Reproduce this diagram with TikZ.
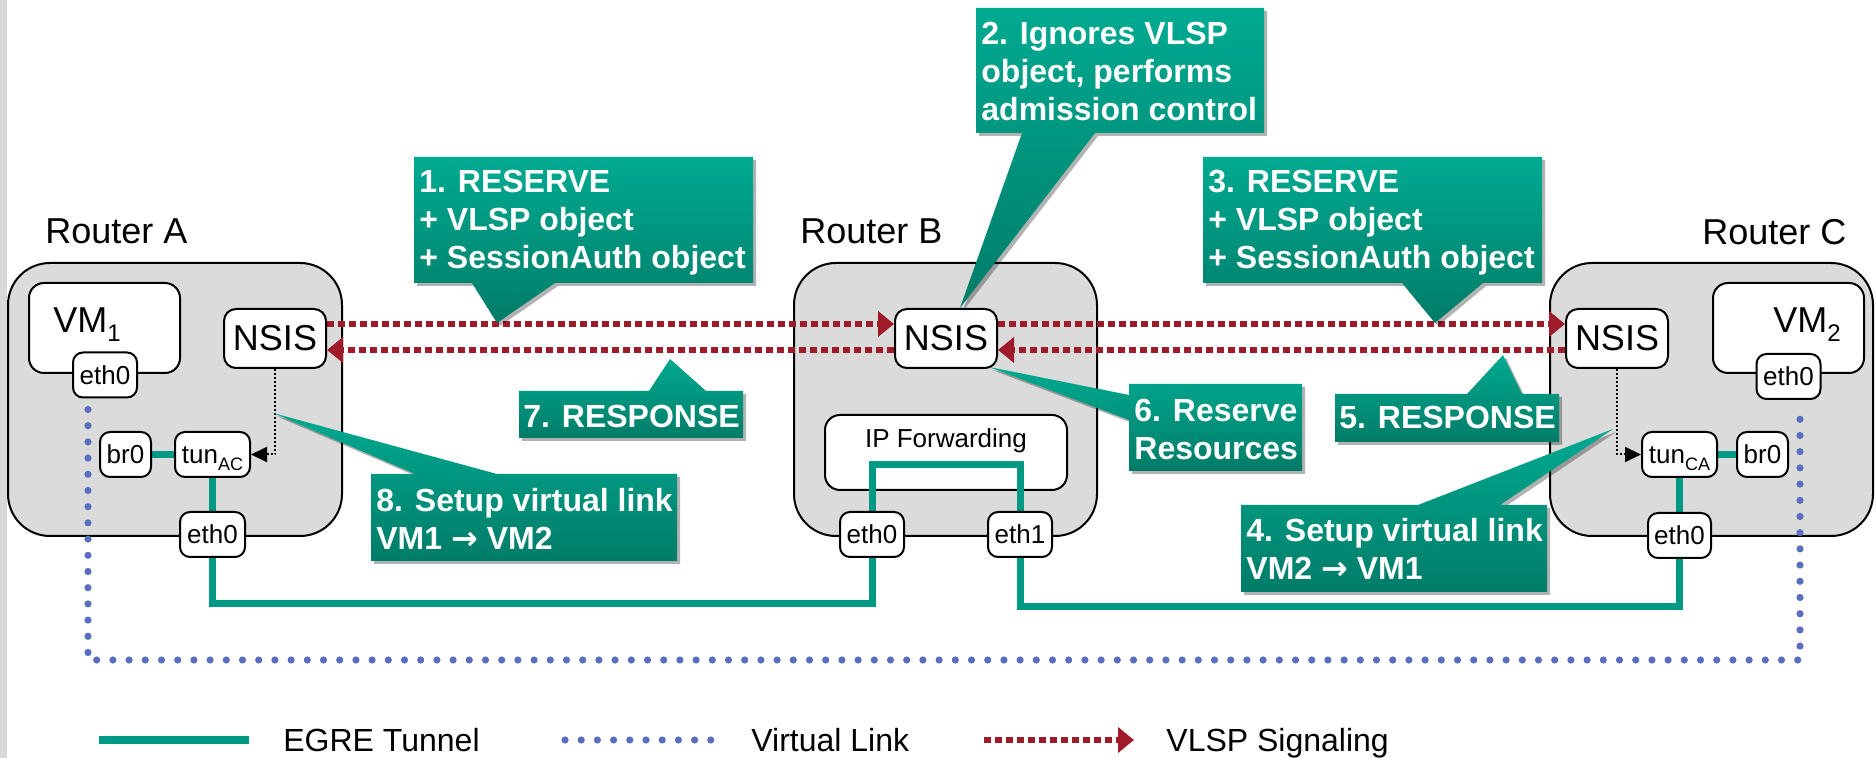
\documentclass[tikz,border=0pt]{standalone}
\usepackage{fontspec}
\setmainfont{Liberation Sans}
\newfontfamily\arrowfont{DejaVu Sans}
\usetikzlibrary{arrows.meta,calc,shadows}
\definecolor{teal0}{RGB}{0,153,133}
\definecolor{calltop}{RGB}{0,170,145}
\definecolor{callbot}{RGB}{0,124,104}
\definecolor{sigred}{RGB}{158,27,42}
\definecolor{vlblue}{RGB}{90,110,190}
\definecolor{routergray}{RGB}{219,219,219}
\definecolor{sidebar}{RGB}{217,217,217}
\pgfdeclarelayer{routers}
\pgfdeclarelayer{links}
\pgfdeclarelayer{callouts}
\pgfsetlayers{routers,links,main,callouts}
\newcommand{\rarr}{{\arrowfont\bfseries →}}
\tikzset{
  router/.style={draw, line width=1pt, fill=routergray, rounded corners=21pt, inner sep=0pt, minimum height=136.5pt},
  vmbox/.style={draw, line width=1pt, fill=white, rounded corners=7.5pt, inner sep=0pt, minimum width=75.5pt, minimum height=45pt},
  port/.style={draw, line width=1pt, fill=white, rounded corners=5pt, inner sep=0pt, minimum height=22.5pt, text height=9.4pt, text depth=0pt, font=\fontsize{13pt}{13pt}\selectfont},
  nsis/.style={draw, line width=1pt, fill=white, rounded corners=6pt, inner sep=0pt, minimum width=51pt, minimum height=29.5pt, font=\fontsize{18pt}{18pt}\selectfont},
  rlabel/.style={anchor=base west, inner sep=0pt, font=\fontsize{18pt}{18pt}\selectfont},
  tunnel/.style={draw=teal0, line width=3.5pt, line join=miter},
  vlink/.style={draw=vlblue, line width=3.6pt, line cap=round, dash pattern=on 0pt off 8.1pt},
  sig/.style={draw=sigred, line width=3pt, dash pattern=on 3.4pt off 2.1pt, -{Triangle[length=8pt,width=12.5pt]}},
  ctrl/.style={draw=black, line width=1pt, dash pattern=on 1pt off 1pt, -{Triangle[length=8pt,width=7.5pt]}},
  callbox/.style={top color=calltop, bottom color=callbot, drop shadow={shadow xshift=1.5pt, shadow yshift=-1.5pt, opacity=0.3, fill=black}},
  calltext/.style={anchor=north west, inner sep=0pt, text=white, align=left, font=\bfseries\fontsize{16pt}{19pt}\selectfont},
  legtext/.style={anchor=base west, inner sep=0pt, font=\fontsize{16pt}{16pt}\selectfont},
}
\begin{document}
\begin{tikzpicture}[x=0.5pt,y=-0.5pt]
\useasboundingbox (0,0) rectangle (1876,758);
\fill[sidebar] (0,0) rectangle (7,758);

% router chassis and the forwarding plane of router B
\begin{pgfonlayer}{routers}
  \node[router, minimum width=167pt] (routerA) at (175,399.5) {};
  \node[router, minimum width=151.5pt] (routerB) at (945.5,399.5) {};
  \node[router, minimum width=161.5pt] (routerC) at (1711.5,399.5) {};
  \node[draw, line width=1pt, fill=white, rounded corners=7.5pt, minimum width=121pt, minimum height=37.5pt] (ipf) at (946,452.5) {};
\end{pgfonlayer}

% router labels
\node[rlabel] (labA) at (45,244) {Router A};
\node[rlabel] (labB) at (800,244) {Router B};
\node[rlabel] (labC) at (1702,245) {Router C};
\node[anchor=base, inner sep=0pt, font=\fontsize{13pt}{13pt}\selectfont] (ipftext) at (946,448) {IP Forwarding};

% virtual machines
\node[vmbox] (vmA) at (104.5,328) {};
\node[vmbox] (vmC) at (1788.5,328) {};
\node[rlabel] (vmAlab) at (53,333) {VM\raisebox{-4.5pt}{\fontsize{12pt}{12pt}\selectfont 1}};
\node[rlabel] (vmClab) at (1773,333) {VM\raisebox{-4.5pt}{\fontsize{12pt}{12pt}\selectfont 2}};

% NSIS daemons
\node[nsis] (nsisA) at (275,338.5) {NSIS};
\node[nsis] (nsisB) at (946,338.5) {NSIS};
\node[nsis] (nsisC) at (1617,338.5) {NSIS};

% interfaces
\node[port, minimum width=32pt] (vmAeth) at (105,375) {eth0};
\node[port, minimum width=32pt] (vmCeth) at (1788.5,376.5) {eth0};
\node[port, minimum width=25.5pt] (brA) at (125.5,454.5) {br0};
\node[port, minimum width=37.5pt] (tunA) at (212.5,454.5) {tun\raisebox{-3.5pt}{\fontsize{9pt}{9pt}\selectfont AC}};
\node[port, minimum width=32.5pt] (ethA) at (212.5,534.5) {eth0};
\node[port, minimum width=32pt] (ethB0) at (872,534.5) {eth0};
\node[port, minimum width=32pt] (ethB1) at (1020,534.5) {eth1};
\node[port, minimum width=37.5pt] (tunC) at (1679.5,454.5) {tun\raisebox{-3.5pt}{\fontsize{9pt}{9pt}\selectfont CA}};
\node[port, minimum width=25.5pt] (brC) at (1762.5,454.5) {br0};
\node[port, minimum width=31.5pt] (ethC) at (1679.5,535.5) {eth0};

% corner points of the long runs
\coordinate (tunAB) at (0,604);
\coordinate (tunBC) at (0,607);
\coordinate (ipfwd) at (0,465);
\coordinate (vlA) at (88,660);
\coordinate (vlC) at (1800,660);

\begin{pgfonlayer}{links}
  % EGRE tunnel
  \draw[tunnel] (brA) -- (tunA);
  \draw[tunnel] (tunA) -- (ethA);
  \draw[tunnel] (ethA.south) -- (ethA.south |- tunAB) -- (ethB0.south |- tunAB) -- (ethB0.south);
  \draw[tunnel] (ethB0.north) -- (ethB0.north |- ipfwd) -- (ethB1.north |- ipfwd) -- (ethB1.north);
  \draw[tunnel] (ethB1.south) -- (ethB1.south |- tunBC) -- (ethC.south |- tunBC) -- (ethC.south);
  \draw[tunnel] (tunC) -- (ethC);
  \draw[tunnel] (tunC) -- (brC);
  % virtual link
  \draw[vlink] ([yshift=-5.5pt]vmAeth.south -| vlA) -- (vlA) -- (vlC) -- ([yshift=-6.5pt]vmCeth.south -| vlC);
  % local control from NSIS to the tunnel endpoints
  \draw[ctrl] (nsisA.south) |- (tunA.east);
  \draw[ctrl] (nsisC.south) |- (tunC.west);
  % VLSP signalling
  \draw[sig] ([yshift=7.25pt]nsisA.east) -- ([yshift=7.25pt]nsisB.west);
  \draw[sig] ([yshift=7.25pt]nsisB.east) -- ([yshift=7.25pt]nsisC.west);
  \draw[sig] ([yshift=-5.75pt]nsisC.west) -- ([yshift=-5.75pt]nsisB.east);
  \draw[sig] ([yshift=-5.75pt]nsisB.west) -- ([yshift=-5.75pt]nsisA.east);
\end{pgfonlayer}

% callouts
\begin{pgfonlayer}{callouts}
  \path[callbox] (414,157) -- (753,157) -- (753,283) -- (555,283) -- (497,323) -- (472,283) -- (414,283) -- cycle;
  \path[callbox] (976,8) -- (1264,8) -- (1264,133) -- (1095,133) -- (960,308) -- (1022,133) -- (976,133) -- cycle;
  \path[callbox] (1203,157) -- (1542,157) -- (1542,283) -- (1483,283) -- (1435,323) -- (1402,283) -- (1203,283) -- cycle;
  \path[callbox] (1241,505) -- (1418,505) -- (1613,429) -- (1500,505) -- (1547,505) -- (1547,592) -- (1241,592) -- cycle;
  \path[callbox] (1335,394) -- (1467,394) -- (1503,355) -- (1522,394) -- (1559,394) -- (1559,442) -- (1335,442) -- cycle;
  \path[callbox] (1129,384) -- (1302,384) -- (1302,471) -- (1129,471) -- (1129,420) -- (989,367) -- (1129,395) -- cycle;
  \path[callbox] (519,391) -- (649,391) -- (670,359) -- (706,391) -- (743,391) -- (743,438) -- (519,438) -- cycle;
  \path[callbox] (371,474) -- (415,474) -- (273,413) -- (497,474) -- (677,474) -- (677,561) -- (371,561) -- cycle;
  \node[calltext] (c1) at (419,170) {1. RESERVE\\+ VLSP object\\+ SessionAuth object};
  \node[calltext] (c2) at (981,22) {2. Ignores VLSP\\object, performs\\admission control};
  \node[calltext] (c3) at (1208,170) {3. RESERVE\\+ VLSP object\\+ SessionAuth object};
  \node[calltext] (c4) at (1246,518) {4. Setup virtual link\\VM2 \rarr{} VM1};
  \node[calltext] (c5) at (1339,406) {5. RESPONSE};
  \node[calltext] (c6) at (1134,399) {6. Reserve\\Resources};
  \node[calltext] (c7) at (523,405) {7. RESPONSE};
  \node[calltext] (c8) at (376,488) {8. Setup virtual link\\VM1 \rarr{} VM2};
\end{pgfonlayer}

% legend
\coordinate (legT1) at (99,740);
\coordinate (legT2) at (249,740);
\coordinate (legV1) at (565,740);
\coordinate (legV2) at (715,740);
\coordinate (legS1) at (984,740);
\coordinate (legS2) at (1134,740);
\draw[tunnel, line width=4pt] (legT1) -- (legT2);
\draw[vlink] (legV1) -- (legV2);
\draw[sig] (legS1) -- (legS2);
\node[legtext] (legT) at (283,752) {EGRE Tunnel};
\node[legtext] (legV) at (751,752) {Virtual Link};
\node[legtext] (legS) at (1166,752) {VLSP Signaling};
\end{tikzpicture}
\end{document}
